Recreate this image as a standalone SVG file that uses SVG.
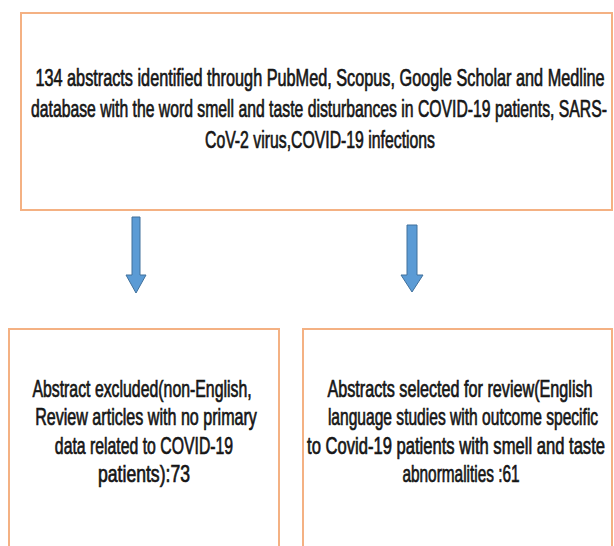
<svg xmlns="http://www.w3.org/2000/svg" width="614" height="546" viewBox="0 0 614 546">
<style>
.box{fill:#ffffff;stroke:#F4B183;stroke-width:2}
.t{font-family:"Liberation Sans",Arial,sans-serif;fill:#151515;text-anchor:middle;stroke:#151515;stroke-width:0.7}
.top{font-size:24px}
.bot{font-size:23px}
.arr{fill:#5B9BD5;stroke:#41719C;stroke-width:1}
</style>
<rect width="614" height="546" fill="#ffffff"/>
<g id="node-identified">
<rect class="box" x="21" y="13" width="591" height="197"/>
<text class="t top" transform="translate(320,86) scale(0.62,1)" textLength="918" lengthAdjust="spacingAndGlyphs">134  abstracts identified through PubMed, Scopus, Google Scholar and Medline</text>
<text class="t top" transform="translate(319,117) scale(0.62,1)" textLength="929" lengthAdjust="spacingAndGlyphs">database with the word smell and taste disturbances in COVID-19 patients, SARS-</text>
<text class="t top" transform="translate(320,148) scale(0.62,1)" textLength="371" lengthAdjust="spacingAndGlyphs">CoV-2 virus,COVID-19 infections</text>
</g>
<g id="node-excluded">
<rect class="box" x="9" y="329" width="270" height="230"/>
<text class="t bot" transform="translate(142,397) scale(0.63,1)" textLength="348" lengthAdjust="spacingAndGlyphs">Abstract excluded(non-English,</text>
<text class="t bot" transform="translate(146,425) scale(0.63,1)" textLength="352" lengthAdjust="spacingAndGlyphs">Review articles with no primary</text>
<text class="t bot" transform="translate(144,454) scale(0.63,1)" textLength="283" lengthAdjust="spacingAndGlyphs">data related to COVID-19</text>
<text class="t bot" transform="translate(144,482) scale(0.63,1)" textLength="146" lengthAdjust="spacingAndGlyphs">patients):73</text>
</g>
<g id="node-selected">
<rect class="box" x="303" y="329" width="309" height="230"/>
<text class="t bot" transform="translate(460,397) scale(0.63,1)" textLength="421" lengthAdjust="spacingAndGlyphs">Abstracts selected  for review(English</text>
<text class="t bot" transform="translate(463,425) scale(0.63,1)" textLength="429" lengthAdjust="spacingAndGlyphs">language studies with outcome specific</text>
<text class="t bot" transform="translate(456,454) scale(0.63,1)" textLength="473" lengthAdjust="spacingAndGlyphs">to Covid-19 patients with smell and taste</text>
<text class="t bot" transform="translate(461,482) scale(0.63,1)" textLength="186" lengthAdjust="spacingAndGlyphs">abnormalities :61</text>
</g>
<g id="connectors">
<path class="arr" d="M132,217 H140 V275 H146 L136,293 L126,275 H132 Z"/>
<path class="arr" d="M407,225 H417 V275 H423 L412,292 L401,275 H407 Z"/>
</g>
</svg>
